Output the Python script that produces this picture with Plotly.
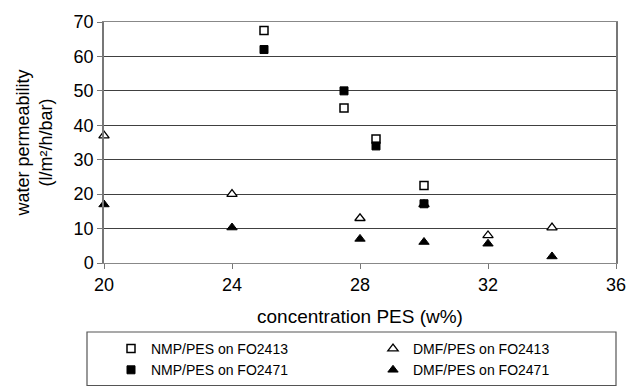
import plotly.graph_objects as go

# Data
nmp_x = [25, 27.5, 28.5, 30]
nmp_fo2413 = [67.5, 45, 36, 22.5]
nmp_fo2471 = [62, 50, 34, 17.2]

dmf_x = [20, 24, 28, 30, 32, 34]
dmf_fo2413 = [37, 20, 13, 17, 8, 10.3]
dmf_fo2471 = [17, 10.3, 7, 6.1, 5.6, 1.9]

x_ticks = [20, 24, 28, 32, 36]
y_ticks = [0, 10, 20, 30, 40, 50, 60, 70]

FONT = "Arial, Liberation Sans, sans-serif"
W, H = 629, 386
L, R, T, B = 104, 13, 22, 123
pw = W - L - R
ph = H - T - B

fig = go.Figure()
fig.add_trace(go.Scatter(x=nmp_x, y=nmp_fo2413, mode="markers", name="NMP/PES on FO2413",
                         marker=dict(symbol="square", size=8, color="white",
                                     line=dict(color="black", width=1.5)), cliponaxis=False))
fig.add_trace(go.Scatter(x=dmf_x, y=dmf_fo2413, mode="markers", name="DMF/PES on FO2413",
                         marker=dict(symbol="triangle-up", size=9, color="white",
                                     line=dict(color="black", width=1.3)), cliponaxis=False))
fig.add_trace(go.Scatter(x=nmp_x, y=nmp_fo2471, mode="markers", name="NMP/PES on FO2471",
                         marker=dict(symbol="square", size=8, color="black",
                                     line=dict(color="black", width=1)), cliponaxis=False))
fig.add_trace(go.Scatter(x=dmf_x, y=dmf_fo2471, mode="markers", name="DMF/PES on FO2471",
                         marker=dict(symbol="triangle-up", size=9, color="black",
                                     line=dict(color="black", width=1)), cliponaxis=False))

fig.update_layout(
    width=W, height=H,
    margin=dict(l=L, r=R, t=T, b=B, pad=0, autoexpand=False),
    paper_bgcolor="white", plot_bgcolor="white",
    font=dict(family=FONT, color="black", size=18),
    showlegend=True,
    legend=dict(orientation="h", x=(101 - L) / pw, xanchor="left",
                y=(T + ph - 333) / ph, yanchor="top", indentation=10,
                font=dict(size=14, family=FONT), entrywidth=207, entrywidthmode="pixels",
                bgcolor="rgba(0,0,0,0)", borderwidth=0, traceorder="normal"),
    shapes=[dict(type="rect", xref="paper", yref="paper",
                 x0=(87 - L) / pw, x1=(616 - L) / pw,
                 y0=(T + ph - 385.5) / ph, y1=(T + ph - 332) / ph,
                 line=dict(color="#555555", width=1.2), fillcolor="rgba(0,0,0,0)")],
)

fig.update_xaxes(range=[20, 36], tickvals=x_ticks, ticks="outside", ticklen=5,
                 tickcolor="#777777", showline=True, linecolor="#888888", linewidth=1.2,
                 mirror=True, showgrid=False, zeroline=False,
                 tickfont=dict(size=18),
                 title=dict(text="concentration PES (w%)", font=dict(size=19), standoff=15))
fig.update_yaxes(range=[0, 70], tickvals=y_ticks, ticks="outside", ticklen=5,
                 tickcolor="#777777", showline=True, linecolor="#777777", linewidth=1.5,
                 mirror=True, showgrid=True, gridcolor="#404040", gridwidth=1.2,
                 zeroline=False, tickfont=dict(size=18),
                 title=dict(text="water permeability<br>(l/m²/h/bar)", font=dict(size=18),
                            standoff=16))

fig.write_html("out.html", config={"displayModeBar": False},
               post_script="document.body.style.margin='0px';")
